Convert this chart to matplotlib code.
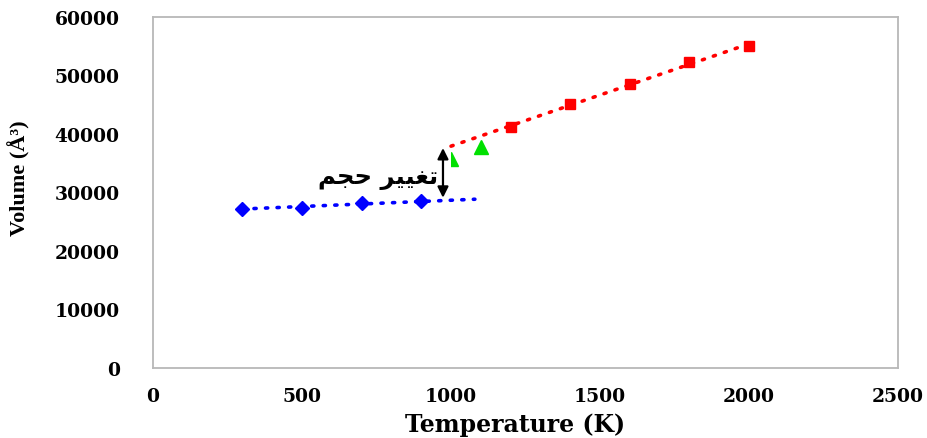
import numpy as np
import matplotlib.pyplot as plt
from matplotlib.patches import Rectangle

# solid phase (blue), liquid phase (red), transition points (green)
T_solid = [300, 500, 700, 900]
V_solid = [27260, 27430, 28120, 28460]
T_liquid = [1200, 1400, 1600, 1800, 2000]
V_liquid = [41140, 45090, 48520, 52290, 55030]
T_trans = [1000, 1100]
V_trans = [35660, 37700]

# linear trend lines drawn over each branch
solid_fit_T = [300, 1080]
liquid_fit_T = [1000, 2000]

# volume jump marked with the double arrow
jump_T = 973
jump_V = [29100, 37600]

x_ticks = [0, 500, 1000, 1500, 2000, 2500]
y_ticks = [0, 10000, 20000, 30000, 40000, 50000, 60000]

# pre-shaped (presentation forms, visual order) "تغيير حجم"
jump_label = "\uFEE2\uFEA0\uFEA3 \uFEAE\uFEF4\uFEF4\uFED0\uFE97"

fig = plt.figure(figsize=(9.28, 4.39), dpi=100)
ax = fig.add_axes([0.1649, 0.1595, 0.8028, 0.7995])

p_s = np.polyfit(T_solid, V_solid, 1)
p_l = np.polyfit(T_liquid, V_liquid, 1)
ts = np.array(solid_fit_T)
tl = np.array(liquid_fit_T)
dots = (0, (0.6, 2.6))
ax.plot(ts, np.polyval(p_s, ts), color='#0000ff', lw=2.6, ls=dots,
        dash_capstyle='round', zorder=2)
ax.plot(tl, np.polyval(p_l, tl), color='#ff0000', lw=2.6, ls=dots,
        dash_capstyle='round', zorder=2)

ax.plot(T_solid, V_solid, ls='none', marker='D', ms=7.5, color='#0000ff', zorder=3)
ax.plot(T_liquid, V_liquid, ls='none', marker='s', ms=7.5, color='#ff0000', zorder=3)
tri = ax.plot(T_trans, V_trans, ls='none', marker='^', ms=10, color='#00e000', zorder=3)[0]
# first triangle is half hidden behind the arrow
clip = Rectangle((T_trans[0], -1e5), 1e4, 3e5, transform=ax.transData)
tri.set_clip_path(clip)

ax.annotate('', xy=(jump_T, jump_V[0]), xytext=(jump_T, jump_V[1]),
            arrowprops=dict(arrowstyle='<|-|>', color='black', lw=1.6,
                            mutation_scale=16, shrinkA=0, shrinkB=0), zorder=4)
ax.text(957, 32600, jump_label, ha='right', va='center', fontsize=17.5,
        fontweight='bold', family='DejaVu Sans')

ax.set_xlim(0, 2500)
ax.set_ylim(0, 60000)
ax.set_xticks(x_ticks)
ax.set_yticks(y_ticks)
ax.tick_params(length=0, pad=14, labelsize=13.5)
ax.tick_params(axis='y', pad=24)
for lab in ax.get_xticklabels() + ax.get_yticklabels():
    lab.set_fontfamily('DejaVu Serif')
    lab.set_fontweight('bold')
for s in ax.spines.values():
    s.set_color('#b8b8b8')
    s.set_linewidth(1.3)

ax.set_xlabel('Temperature (K)', fontsize=17, fontweight='bold', family='DejaVu Serif')
ax.xaxis.set_label_coords((515 - 153) / 745, -0.125)
ax.set_ylabel('Volume (Å³)', fontsize=16, fontweight='bold', family='Liberation Serif')
ax.yaxis.set_label_coords(-0.165, 0.543)

fig.savefig('out.png', dpi=100)
